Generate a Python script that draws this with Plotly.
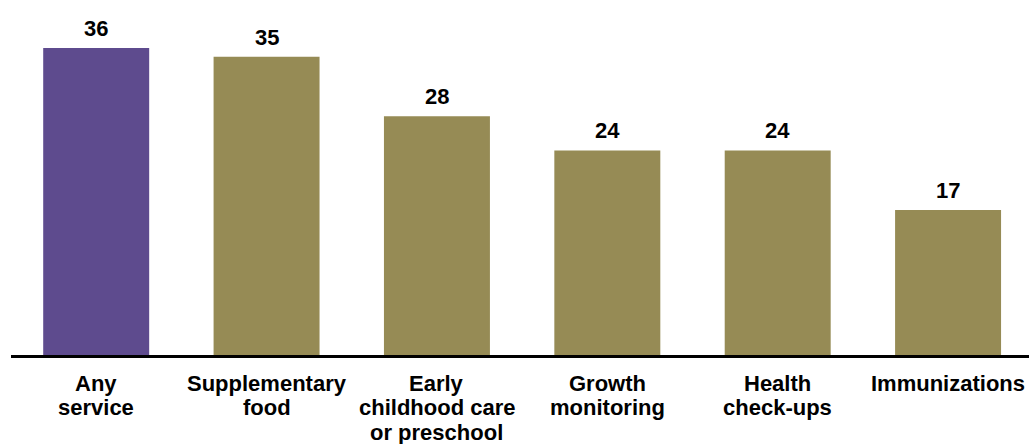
import plotly.graph_objects as go

categories = ["Any<br>service", "Supplementary<br>food", "Early<br>childhood care<br>or preschool",
              "Growth<br>monitoring", "Health<br>check-ups", "Immunizations"]
values = [36, 35, 28, 24, 24, 17]
colors = ["#5E4B8E", "#968B55", "#968B55", "#968B55", "#968B55", "#968B55"]

FONT = "Liberation Sans, Arial, sans-serif"
xs = list(range(len(categories)))

fig = go.Figure(go.Bar(x=xs, y=values, marker=dict(color=colors, line=dict(width=0)),
                       hoverinfo="skip"))

annotations = []
for x, v in zip(xs, values):
    annotations.append(dict(x=x, y=v, xref="x", yref="y", text=f"<b>{v}</b>", showarrow=False,
                            yanchor="bottom", yshift=5, font=dict(family=FONT, size=22, color="black")))
for x, lab in zip(xs, categories):
    for i, line in enumerate(lab.split("<br>")):
        annotations.append(dict(x=x, y=0, xref="x", yref="paper", text=f"<b>{line}</b>", showarrow=False,
                                yanchor="middle", yshift=-(28 + 24.5 * i),
                                font=dict(family=FONT, size=22, color="black")))

fig.update_layout(
    width=1029, height=444,
    margin=dict(l=11, r=0, t=14, b=89),
    paper_bgcolor="white", plot_bgcolor="white",
    bargap=0.378, showlegend=False,
    annotations=annotations,
    xaxis=dict(range=[-0.5, 5.475], showticklabels=False, ticks="", showgrid=False, zeroline=False,
               showline=True, linecolor="black", linewidth=3, fixedrange=True),
    yaxis=dict(range=[0, 40], visible=False, showgrid=False, zeroline=False, fixedrange=True),
)
fig.write_html("out.html", config={"displayModeBar": False},
               post_script="document.body.style.margin='0';document.body.style.overflow='hidden';")
